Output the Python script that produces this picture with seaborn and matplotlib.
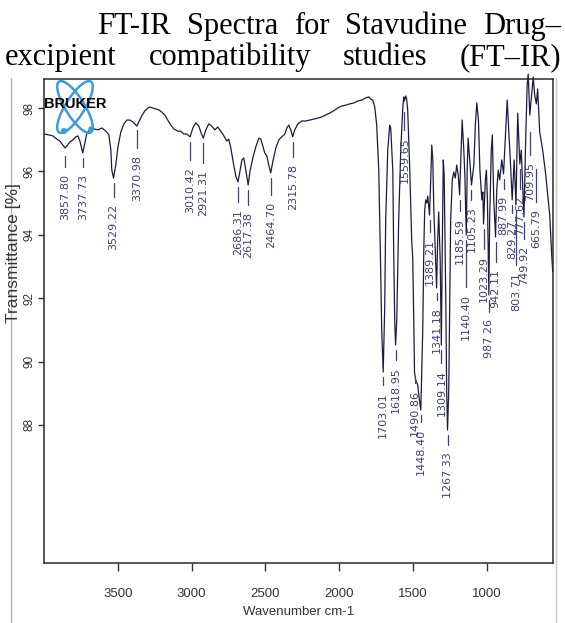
import numpy as np
import pandas as pd
import matplotlib
matplotlib.use("Agg")
import matplotlib.pyplot as plt
import seaborn as sns
from matplotlib.patches import Ellipse, Circle

# ---------------- data ----------------
wavenumber = [
    4000, 3967, 3940, 3913, 3893, 3872, 3857.8, 3845, 3825, 3805, 3784, 3771, 3757, 3737.7,
    3723, 3710, 3690, 3662, 3635, 3608, 3581, 3561, 3547, 3541, 3529.2, 3514, 3500, 3480,
    3459, 3439, 3419, 3398, 3385, 3371.0, 3358, 3338, 3317, 3297, 3283, 3263, 3243, 3222,
    3202, 3182, 3162, 3141, 3121, 3094, 3074, 3053, 3033, 3010.4, 2992, 2972, 2952, 2938,
    2921.3, 2904, 2884, 2864, 2843, 2823, 2803, 2782, 2762, 2749, 2735, 2715, 2701, 2686.3,
    2674, 2660, 2647, 2633, 2617.4, 2606, 2586, 2566, 2545, 2532, 2518, 2505, 2491, 2478,
    2464.7, 2451, 2430, 2410, 2390, 2369, 2356, 2342, 2329, 2315.8, 2302, 2281, 2254, 2227,
    2200, 2173, 2146, 2119, 2092, 2065, 2038, 2011, 1984, 1957, 1929, 1902, 1875, 1848,
    1821, 1801, 1787, 1774, 1760, 1747, 1733, 1720, 1713, 1703.0, 1693, 1686, 1672, 1659,
    1652, 1638, 1632, 1625, 1619.0, 1611, 1598, 1584, 1571, 1564, 1559.7, 1550, 1544, 1537,
    1523, 1510, 1503, 1496, 1490.9, 1483, 1469, 1462, 1448.4, 1435, 1428, 1422, 1415, 1408,
    1401, 1389.2, 1381, 1374, 1367, 1360, 1350, 1341.2, 1334, 1327, 1317, 1309.1, 1303, 1296,
    1290, 1279, 1273, 1267.3, 1259, 1252, 1246, 1235, 1225, 1215, 1205, 1195, 1185.6, 1175,
    1168, 1157, 1150, 1140.4, 1134, 1128, 1117, 1105.2, 1089, 1079, 1069, 1058, 1048, 1035,
    1028, 1023.3, 1011, 1004, 997, 987.3, 982, 971, 964, 954, 942.1, 934, 924, 914,
    900, 888.0, 873, 863, 853, 842, 829.3, 816, 803.7, 792, 777.6, 768, 749.9, 738,
    728, 721, 710.0, 687, 677, 665.8, 657, 643, 623, 602, 589, 575, 562, 555,
]
transmittance = [
    97.18, 97.15, 97.12, 97.02, 96.96, 96.83, 96.74, 96.80, 96.93, 96.99, 97.09, 97.12, 96.96, 96.58,
    96.90, 97.21, 97.31, 97.34, 97.31, 97.37, 97.27, 97.15, 96.67, 96.04, 95.79, 96.20, 96.74, 97.24,
    97.50, 97.62, 97.62, 97.56, 97.50, 97.43, 97.56, 97.75, 97.91, 98.00, 98.03, 98.00, 97.97, 97.94,
    97.87, 97.78, 97.62, 97.46, 97.34, 97.27, 97.27, 97.18, 97.18, 97.09, 97.37, 97.53, 97.43, 97.24,
    97.05, 97.31, 97.50, 97.43, 97.31, 97.40, 97.27, 97.12, 96.96, 97.02, 96.74, 96.20, 95.85, 95.67,
    95.98, 96.36, 96.42, 96.04, 95.57, 95.98, 96.42, 96.77, 97.05, 97.02, 96.80, 96.58, 96.49, 96.20,
    95.95, 96.30, 96.74, 96.99, 97.09, 97.18, 97.37, 97.46, 97.31, 97.09, 97.31, 97.50, 97.59, 97.59,
    97.62, 97.65, 97.68, 97.72, 97.78, 97.84, 97.91, 98.00, 98.06, 98.09, 98.13, 98.16, 98.22, 98.25,
    98.32, 98.35, 98.28, 98.25, 98.03, 97.46, 96.04, 92.89, 91.00, 89.67, 91.63, 94.47, 96.67, 97.46,
    97.37, 96.04, 93.52, 91.31, 90.52, 91.31, 94.47, 96.67, 97.94, 98.35, 98.22, 98.38, 98.28, 97.94,
    96.04, 93.84, 93.27, 91.31, 89.67, 89.42, 89.26, 88.95, 88.47, 91.00, 93.52, 94.78, 95.10, 95.00,
    95.22, 94.62, 95.73, 96.83, 96.36, 94.78, 93.52, 92.32, 93.84, 94.72, 93.20, 90.52, 93.52, 96.36,
    95.89, 91.94, 89.10, 87.84, 89.10, 91.94, 94.47, 95.73, 95.98, 95.79, 96.20, 95.89, 95.26, 96.67,
    97.62, 96.67, 95.89, 93.99, 96.04, 97.05, 96.36, 95.57, 96.20, 97.46, 98.16, 97.62, 96.04, 95.10,
    95.35, 94.34, 95.73, 96.04, 95.10, 92.10, 94.47, 96.67, 97.15, 95.10, 93.93, 95.41, 96.04, 95.73,
    96.36, 95.92, 97.31, 98.25, 97.31, 96.36, 95.10, 96.36, 94.94, 97.84, 96.23, 96.67, 94.56, 96.99,
    98.73, 99.07, 97.78, 98.98, 98.41, 98.13, 98.60, 97.24, 96.67, 95.89, 95.26, 94.62, 93.36, 92.83,
]

peak_wn = [3857.80, 3737.73, 3529.22, 3370.98, 3010.42, 2921.31, 2686.31, 2617.38, 2464.70,
           2315.78, 1703.01, 1618.95, 1559.65, 1490.86, 1448.40, 1389.21, 1341.18, 1309.14,
           1267.33, 1185.59, 1140.40, 1105.23, 1023.29, 987.26, 942.11, 887.99, 829.27,
           803.71, 777.62, 749.92, 709.95, 665.79]
peak_labels = ["3857.80", "3737.73", "3529.22", "3370.98", "3010.42", "2921.31", "2686.31",
               "2617.38", "2464.70", "2315.78", "1703.01", "1618.95", "1559.65", "1490.86",
               "1448.40", "1389.21", "1341.18", "1309.14", "1267 33", "1185.59", "1140.40",
               "1105.23", "1023.29", "987 26", "942.11", "887.99", "829.27", "803.71",
               "777.62", "749.92", "709.95", "665.79"]
# %T where each leader line starts, and its length in %T
lead_top = [96.49, 96.42, 95.63, 97.31, 96.93, 96.90, 95.51, 95.41, 95.79, 96.93, 89.51,
            90.36, 97.87, 89.51, 88.31, 94.47, 92.16, 90.36, 87.68, 95.10, 93.84, 95.41,
            94.18, 91.94, 93.77, 95.76, 94.94, 94.78, 96.08, 94.40, 97.24, 96.08]
lead_len = [0.35, 0.28, 0.44, 0.57, 0.57, 0.63, 0.47, 0.47, 0.54, 0.47, 0.25, 0.32, 0.57,
            0.19, 0.22, 0.38, 0.22, 0.41, 0.32, 0.35, 1.48, 0.30, 0.63, 0.38, 0.63, 0.32,
            0.25, 1.74, 0.63, 0.54, 0.73, 1.04]

x_ticks = [3500, 3000, 2500, 2000, 1500, 1000]
y_ticks = [88, 90, 92, 94, 96, 98]
title_line1 = ["FT-IR", "Spectra", "for", "Stavudine", "Drug\u2013"]
title_line2 = ["excipient", "compatibility", "studies", "(FT\u2013IR)"]
y_label = "Transmittance [%]"
x_label = "Wavenumber cm-1"
logo_text = "BRUKER"

assert len(wavenumber) == len(transmittance)

# ---------------- style ----------------
sns.set_theme(style="ticks")
plt.rcParams['font.family'] = ['Liberation Sans', 'DejaVu Sans']

W, H = 565, 623
fig = plt.figure(figsize=(W / 100, H / 100), dpi=100)
fig.patch.set_facecolor('white')

ax = fig.add_axes([44 / W, 1 - 563 / H, (553 - 44) / W, (563 - 79) / H])
ax.set_facecolor('white')

df = pd.DataFrame({"wavenumber": wavenumber, "transmittance": transmittance})
sns.lineplot(data=df, x="wavenumber", y="transmittance", ax=ax, sort=False,
             estimator=None, color="#1c1c42", linewidth=0.9)
for ln in ax.lines:
    ln.set_clip_on(False)

ax.set_xlim(4000, 553)
ax.set_ylim(83.645, 98.915)

for s in ax.spines.values():
    s.set_visible(True)
    s.set_color('#2a2a2a')
    s.set_linewidth(1.1)

ax.set_xticks(x_ticks)
ax.set_xticklabels([str(t) for t in x_ticks], fontsize=9.5, color='#333333')
ax.set_yticks(y_ticks)
ax.set_yticklabels([str(t) for t in y_ticks], rotation=90, va='center',
                   fontsize=8.5, color='#333333')
ax.tick_params(axis='x', direction='out', length=6, width=1, color='#333333', pad=12)
ax.tick_params(axis='y', direction='out', length=4, width=1, color='#333333', pad=2)
ax.set_xlabel("")
ax.set_ylabel("")

# peak annotations
lab_col = '#3e4074'
gap = 0.22
for wn_, lab, top, ll in zip(peak_wn, peak_labels, lead_top, lead_len):
    ax.plot([wn_, wn_], [top, top - ll], color=lab_col, lw=0.9, clip_on=False)
    ax.text(wn_, top - ll - gap, lab, rotation=90, ha='center', va='top',
            fontsize=8.0, color=lab_col, family='DejaVu Sans')

# ---------------- overlay in pixel coordinates ----------------
ov = fig.add_axes([0, 0, 1, 1], zorder=5)
ov.set_xlim(0, W)
ov.set_ylim(H, 0)
ov.axis('off')
ov.patch.set_alpha(0)

# outer gray border of original screenshot
ov.plot([11, 11], [78, H], color='#b5b5b5', lw=1)
ov.plot([556, 556], [78, H], color='#c8c8c8', lw=1)

# Bruker logo
blue = '#3f9bd8'
for ang in (58, -58):
    ov.add_patch(Ellipse((75, 107), 60, 19, angle=ang, fill=False, ec=blue, lw=1.8))
ov.add_patch(Circle((64, 131), 2.3, color=blue))
ov.add_patch(Circle((91, 129), 2.0, color=blue))
ov.text(75, 104, logo_text, ha='center', va='center', fontsize=10.5, fontweight='bold',
        color='black', family='Liberation Sans')

# axis labels
ov.text(14, 253, y_label, rotation=90, ha='center', va='center', fontsize=12.5,
        color='#333333')
ov.text(299, 612, x_label, ha='center', va='center', fontsize=9.5, color='#333333')

# justified title
fig.canvas.draw()
rend = fig.canvas.get_renderer()


def place_line(words, base, x_left, x_right, size):
    texts = [ov.text(0, base, w, fontsize=size, family='Liberation Serif', va='baseline',
                     ha='left', color='black') for w in words]
    widths = [t.get_window_extent(rend).width for t in texts]
    g = (x_right - x_left - sum(widths)) / (len(words) - 1)
    x = x_left
    for t, w in zip(texts, widths):
        t.set_x(x)
        x += w + g


place_line(title_line1, 34, 97, 561, 22)
place_line(title_line2, 65, 5, 561, 22)

fig.savefig("out.png", dpi=100, facecolor='white')
